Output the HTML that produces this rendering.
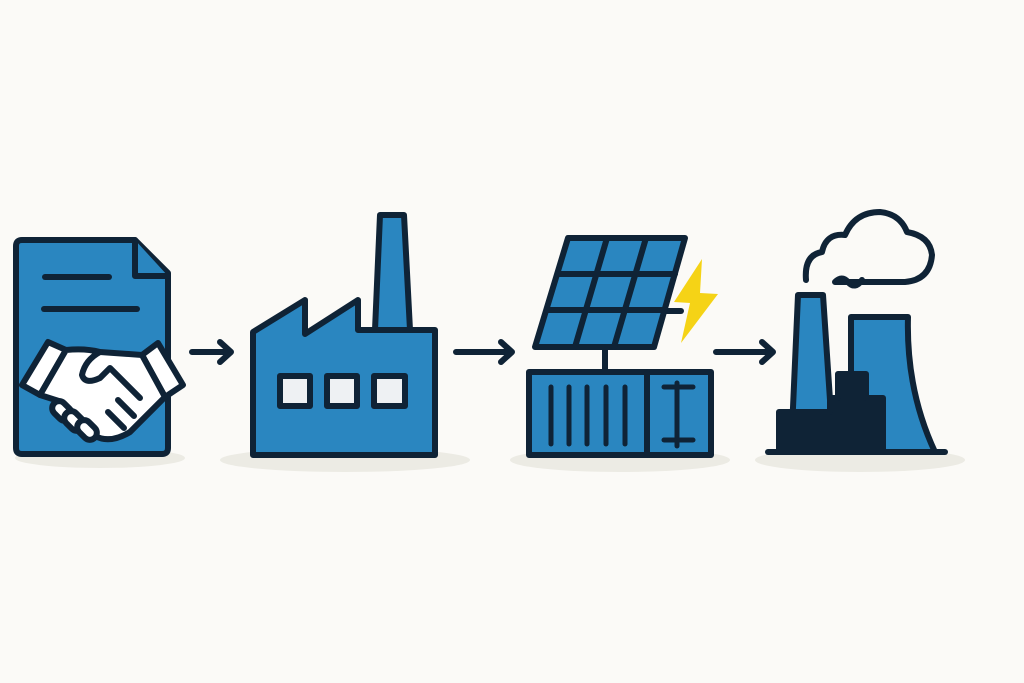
<!DOCTYPE html>
<html><head><meta charset="utf-8"><style>
html,body{margin:0;padding:0;background:#fbfaf7;}
svg{display:block;}
</style></head><body>
<svg width="1024" height="683" viewBox="0 0 1024 683" xmlns="http://www.w3.org/2000/svg">
<rect width="1024" height="683" fill="#fbfaf7"/>
<g fill="#ecebe4">
<ellipse cx="100" cy="458" rx="85" ry="10"/>
<ellipse cx="345" cy="460" rx="125" ry="12"/>
<ellipse cx="620" cy="460" rx="110" ry="12"/>
<ellipse cx="860" cy="460" rx="105" ry="12"/>
</g>
<g stroke="#0f2336" stroke-width="6" stroke-linejoin="round" stroke-linecap="round">
<!-- document -->
<path d="M22 240 H135 L168 273 V448 Q168 454 162 454 H22 Q16 454 16 448 V246 Q16 240 22 240 Z" fill="#2a86c0"/>
<path d="M135 240 V276 H168" fill="#2a86c0"/>
<line x1="45" y1="277" x2="109" y2="277"/>
<line x1="44" y1="309" x2="137" y2="309"/>
<!-- handshake -->
<path d="M22 385 L48 342 L66 350 L40 395 Z" fill="#fff"/>
<path d="M158 343 L183 385 L165 397 L142 355 Z" fill="#fff"/>
<path d="M66 350 Q85 348 100 352 L142 355 L165 397 L130 432 Q110 444 95 436 L62 402 L40 395 Z" fill="#fff"/>
<path d="M100 352 Q85 360 82 375 Q85 385 100 378 L110 368 L140 398" fill="none"/>
<rect x="55" y="400" width="14" height="22" rx="7" transform="rotate(-45 62 411)" fill="#fff"/>
<rect x="67" y="410" width="14" height="22" rx="7" transform="rotate(-45 74 421)" fill="#fff"/>
<rect x="80" y="419" width="14" height="22" rx="7" transform="rotate(-45 87 430)" fill="#fff"/>
<line x1="118" y1="400" x2="134" y2="416"/>
<line x1="108" y1="412" x2="124" y2="428"/>
<!-- arrows -->
<path d="M192 352 H230 M220 342 L231 352 L220 362" fill="none"/>
<path d="M456 352 H512 M501 342 L512 352 L501 362" fill="none"/>
<path d="M716 352 H773 M762 342 L773 352 L762 362" fill="none"/>
<!-- factory -->
<path d="M380 215 H404 L410 330 H375 Z" fill="#2a86c0"/>
<path d="M253 332 L305 300 V334 L358 300 V330 H435 V455 H253 Z" fill="#2a86c0"/>
<rect x="280" y="376" width="30" height="30" fill="#eef1f3"/>
<rect x="327" y="376" width="30" height="30" fill="#eef1f3"/>
<rect x="374" y="376" width="31" height="30" fill="#eef1f3"/>
<!-- solar -->
<line x1="605" y1="348" x2="605" y2="372"/>
<line x1="660" y1="311" x2="681" y2="311"/>
<path d="M568 238 H685 L654 347 H535 Z" fill="#2a86c0"/>
<line x1="607" y1="238" x2="575" y2="347"/>
<line x1="646" y1="238" x2="614" y2="347"/>
<line x1="558" y1="274" x2="675" y2="274"/>
<line x1="547" y1="310" x2="665" y2="310"/>
<rect x="529" y="372" width="182" height="83" fill="#2a86c0"/>
<line x1="647" y1="372" x2="647" y2="455"/>
<g stroke-width="5">
<line x1="551" y1="387" x2="551" y2="444"/>
<line x1="569" y1="387" x2="569" y2="444"/>
<line x1="587" y1="387" x2="587" y2="444"/>
<line x1="606" y1="387" x2="606" y2="444"/>
<line x1="625" y1="387" x2="625" y2="444"/>
<line x1="677" y1="383" x2="677" y2="446"/>
<line x1="664" y1="387" x2="693" y2="387"/>
<line x1="664" y1="440" x2="693" y2="440"/>
</g>
</g>
<path d="M702 259 L674 302 L690 303 L681 343 L718 294 L700 293 Z" fill="#f5d316"/>
<!-- power plant -->
<g stroke="#0f2336" stroke-width="6" stroke-linejoin="round" stroke-linecap="round">
<path d="M806 280 Q804 255 822 252 Q826 233 845 235 Q855 212 880 212 Q900 214 907 232 Q930 236 932 255 Q930 280 905 282 H835 M835 282 Q842 275 848 282 Q855 290 862 280" fill="none"/>
<path d="M798 295 H823 L832 430 H792 Z" fill="#2a86c0"/>
<path d="M851 317 H908 Q906 390 935 452 H851 Z" fill="#2a86c0"/>
<path d="M779 412 H830 V398 H838 V374 H866 V398 H883 V452 H779 Z" fill="#0f2336"/>
<line x1="768" y1="452" x2="945" y2="452"/>
</g>
</svg>
</body></html>
